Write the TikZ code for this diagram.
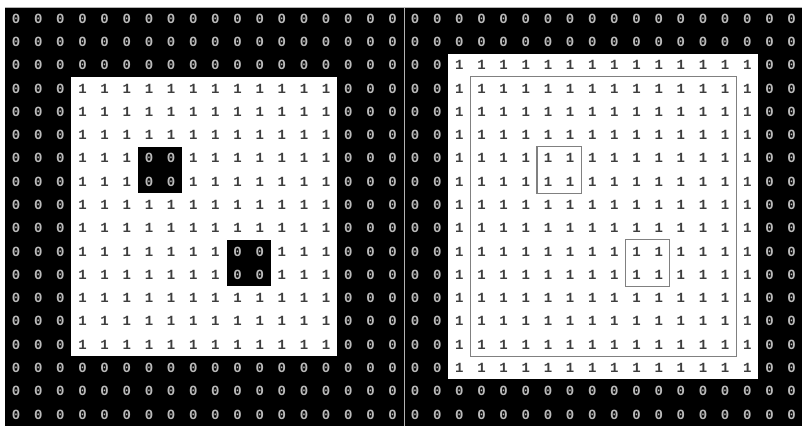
\documentclass[tikz,border=0pt]{standalone}
\usepackage{fontspec}
\setmonofont{Liberation Mono}
\definecolor{zeroink}{RGB}{186,186,186}
\definecolor{oneink}{RGB}{62,62,62}
\definecolor{rulegray}{RGB}{128,128,128}
\tikzset{
  zero/.style={font=\ttfamily\bfseries\fontsize{14}{14}\selectfont,text=zeroink,inner sep=0pt},
  one/.style={font=\ttfamily\bfseries\fontsize{14}{14}\selectfont,text=oneink,inner sep=0pt},
  hole/.style={fill=black},
  window/.style={draw=rulegray,line width=1.3pt},
  divider/.style={draw=rulegray!60,line width=1pt}
}
\def\dx{22.15}
\def\dy{23.28}
\begin{document}
\begin{tikzpicture}[x=1pt,y=-1pt]
  \useasboundingbox (0,0) rectangle (802,426);
  \fill[white] (0,0) rectangle (802,426);
  % left panel: image with two holes
  \fill[black] (5,7) rectangle (404,426);
  \fill[white] ({5+3*\dx},{7+3*\dy}) rectangle ({5+15*\dx},{7+15*\dy});
  \fill[hole] ({5+6*\dx},{7+6*\dy}) rectangle ({5+8*\dx},{7+8*\dy});
  \fill[hole] ({5+10*\dx},{7+10*\dy}) rectangle ({5+12*\dx},{7+12*\dy});
  \foreach \r in {0,...,17} {
    \foreach \c in {0,...,17} {
      \pgfmathtruncatemacro\v{(\r>2)*(\r<15)*(\c>2)*(\c<15)*(1-(\r>5)*(\r<8)*(\c>5)*(\c<8))*(1-(\r>9)*(\r<12)*(\c>9)*(\c<12))}
      \ifnum\v=1
        \node[one] (L-\r-\c) at ({5+(\c+0.5)*\dx},{7+(\r+0.5)*\dy}) {1};
      \else
        \node[zero] (L-\r-\c) at ({5+(\c+0.5)*\dx},{7+(\r+0.5)*\dy}) {0};
      \fi
    }
  }
  % right panel: filled result
  \fill[black] (404,7) rectangle (802,426);
  \fill[white] ({404+2*\dx},{7+2*\dy}) rectangle ({404+16*\dx},{7+16*\dy});
  \foreach \r in {0,...,17} {
    \foreach \c in {0,...,17} {
      \pgfmathtruncatemacro\v{(\r>1)*(\r<16)*(\c>1)*(\c<16)}
      \ifnum\v=1
        \node[one] (R-\r-\c) at ({404+(\c+0.5)*\dx},{7+(\r+0.5)*\dy}) {1};
      \else
        \node[zero] (R-\r-\c) at ({404+(\c+0.5)*\dx},{7+(\r+0.5)*\dy}) {0};
      \fi
    }
  }
  \draw[window] ({404+3*\dx},{7+3*\dy}) rectangle ({404+15*\dx},{7+15*\dy});
  \draw[window] ({404+6*\dx},{7+6*\dy}) rectangle ({404+8*\dx},{7+8*\dy});
  \draw[window] ({404+10*\dx},{7+10*\dy}) rectangle ({404+12*\dx},{7+12*\dy});
  \draw[divider] (404,7) -- (404,426);
  \draw[divider] (5,7) -- (802,7);
\end{tikzpicture}
\end{document}
